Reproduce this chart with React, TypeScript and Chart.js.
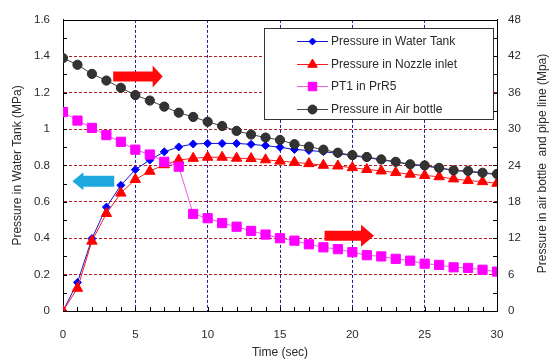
import React, { useEffect, useRef } from "react";
import { Chart, registerables } from "chart.js";

Chart.register(...registerables);

// ---------- data ----------
const timeSec = [0,1,2,3,4,5,6,7,8,9,10,11,12,13,14,15,16,17,18,19,20,21,22,23,24,25,26,27,28,29,30];

// left axis (MPa)
const waterTank = [0,0.157,0.398,0.571,0.691,0.777,0.830,0.875,0.902,0.918,0.921,0.921,0.921,0.916,0.909,0.900,0.888,0.882,0.876,0.866,0.853,0.843,0.831,0.819,0.806,0.797,0.786,0.773,0.766,0.758,0.750];
const nozzleInlet = [0,0.125,0.384,0.536,0.648,0.723,0.768,0.804,0.830,0.839,0.845,0.845,0.840,0.838,0.831,0.824,0.817,0.810,0.801,0.797,0.788,0.778,0.770,0.761,0.752,0.745,0.738,0.726,0.717,0.711,0.702];

// right axis (MPa)
const pt1PrR5 = [32.8,31.4,30.2,29.0,27.9,26.6,25.8,24.6,23.8,16.0,15.3,14.5,13.9,13.2,12.6,12.0,11.6,11.0,10.5,10.2,9.7,9.2,9.0,8.6,8.3,7.8,7.6,7.2,7.1,6.8,6.5];
const airBottle = [41.7,40.6,39.1,38.0,36.8,35.6,34.7,33.7,32.7,32.0,31.2,30.5,29.7,29.1,28.6,28.2,27.5,27.1,26.6,26.1,25.7,25.4,25.0,24.6,24.2,24.0,23.6,23.2,23.1,22.8,22.6];

const seriesNames = ["Pressure in Water Tank", "Pressure in Nozzle inlet", "PT1 in PrR5", "Pressure in Air bottle"];

const timeTicks = [0,5,10,15,20,25,30];
const leftTicks = [0,0.2,0.4,0.6,0.8,1,1.2,1.4,1.6];
const rightTicks = [0,6,12,18,24,30,36,42,48];

const xTitle = "Time (sec)";
const leftTitle = "Pressure in Water Tank (MPa)";
const rightTitle = "Pressure in air bottle  and pipe line (Mpa)";

// ---------- helpers ----------
const FONT = "'Liberation Sans', Arial, sans-serif";
const TEXT = "#2a2a2a";

const pts = (xs: number[], ys: number[]) => xs.map((x, i) => ({ x, y: ys[i] }));

function marker(ctx: CanvasRenderingContext2D, style: string, x: number, y: number, r: number, fill: string) {
  ctx.save();
  ctx.fillStyle = fill;
  ctx.strokeStyle = fill;
  ctx.lineWidth = 1;
  ctx.beginPath();
  if (style === "rectRot") {
    ctx.moveTo(x, y - r); ctx.lineTo(x + r, y); ctx.lineTo(x, y + r); ctx.lineTo(x - r, y); ctx.closePath();
  } else if (style === "triangle") {
    const w = r * Math.sqrt(3) / 2;
    ctx.moveTo(x, y - r); ctx.lineTo(x + w, y + r / 2); ctx.lineTo(x - w, y + r / 2); ctx.closePath();
  } else if (style === "rect") {
    const s = r * Math.SQRT1_2;
    ctx.rect(x - s, y - s, 2 * s, 2 * s);
  } else {
    ctx.arc(x, y, r, 0, Math.PI * 2);
  }
  ctx.fill();
  ctx.stroke();
  ctx.restore();
}

function arrow(ctx: CanvasRenderingContext2D, xTail: number, xTip: number, y: number, bodyHalf: number, headHalf: number, headLen: number, color: string) {
  const dir = xTip > xTail ? 1 : -1;
  const xNeck = xTip - dir * headLen;
  ctx.save();
  ctx.fillStyle = color;
  ctx.beginPath();
  ctx.moveTo(xTail, y - bodyHalf);
  ctx.lineTo(xNeck, y - bodyHalf);
  ctx.lineTo(xNeck, y - headHalf);
  ctx.lineTo(xTip, y);
  ctx.lineTo(xNeck, y + headHalf);
  ctx.lineTo(xNeck, y + bodyHalf);
  ctx.lineTo(xTail, y + bodyHalf);
  ctx.closePath();
  ctx.fill();
  ctx.restore();
}

const decorPlugin = {
  id: "decor",
  beforeDatasetsDraw(chart: any) {
    const { ctx, chartArea: a, scales } = chart;
    ctx.save();
    ctx.strokeStyle = "#000";
    ctx.lineWidth = 1;
    ctx.beginPath();
    for (let v = 1; v < 30; v++) {
      const px = Math.round(scales.x.getPixelForValue(v)) + 0.5;
      ctx.moveTo(px, a.bottom); ctx.lineTo(px, a.bottom - 4);
    }
    for (let k = 1; k < 16; k++) {
      const py = Math.round(scales.y.getPixelForValue(k / 10)) + 0.5;
      ctx.moveTo(a.left, py); ctx.lineTo(a.left + 4, py);
    }
    for (let k = 1; k < 16; k++) {
      const py = Math.round(scales.y1.getPixelForValue(k * 3)) + 0.5;
      ctx.moveTo(a.right, py); ctx.lineTo(a.right - 4, py);
    }
    ctx.stroke();
    // plot box
    ctx.strokeRect(Math.round(a.left) + 0.5, Math.round(a.top) + 0.5, Math.round(a.right - a.left), Math.round(a.bottom - a.top));
    ctx.restore();
  },
  afterDraw(chart: any) {
    const { ctx, chartArea: a, scales } = chart;
    const X = (v: number) => scales.x.getPixelForValue(v);
    const Y = (v: number) => scales.y.getPixelForValue(v);

    // arrows
    arrow(ctx, X(3.47), X(6.89), Y(1.289), 5, 11, 10, "#ff0a0a");
    arrow(ctx, X(3.54), X(0.65), Y(0.7125), 5.5, 9, 11, "#1ea8e0");
    arrow(ctx, X(18.08), X(21.5), Y(0.413), 5, 11, 13, "#ff0a0a");

    // legend
    const bx = a.right - 233, by = a.top + 8, bw = 229, bh = 91;
    ctx.save();
    ctx.fillStyle = "#fff";
    ctx.fillRect(Math.round(bx), Math.round(by), bw, bh);
    ctx.strokeStyle = "#333";
    ctx.lineWidth = 1;
    ctx.strokeRect(Math.round(bx) + 0.5, Math.round(by) + 0.5, bw, bh);
    const order = [0, 1, 2, 3];
    const rowY = [13, 36, 58, 81];
    ctx.font = `12px ${FONT}`;
    ctx.textBaseline = "middle";
    ctx.textAlign = "left";
    order.forEach((di, i) => {
      const ds = chart.data.datasets[di];
      const y = Math.round(by + rowY[i]) + 0.5;
      ctx.strokeStyle = ds.borderColor;
      ctx.lineWidth = 1;
      ctx.beginPath();
      ctx.moveTo(bx + 33, y); ctx.lineTo(bx + 64, y);
      ctx.stroke();
      marker(ctx, ds.pointStyle, bx + 48.5, y, ds.legendRadius, ds.pointBackgroundColor);
      ctx.fillStyle = TEXT;
      ctx.fillText(ds.label, bx + 67, y);
    });
    ctx.restore();

    // right axis title (reads bottom to top)
    ctx.save();
    ctx.font = `12px ${FONT}`;
    ctx.fillStyle = TEXT;
    ctx.textAlign = "center";
    ctx.textBaseline = "middle";
    ctx.translate(543, (a.top + a.bottom) / 2 - 2);
    ctx.rotate(-Math.PI / 2);
    ctx.fillText(rightTitle, 0, 0);
    ctx.restore();
  },
};

export default function App() {
  const ref = useRef<HTMLCanvasElement | null>(null);

  useEffect(() => {
    document.body.style.margin = "0";
    const canvas = ref.current;
    if (!canvas) return;
    Chart.defaults.font.family = FONT;

    const hideEnds = (lo: number, hi: number, color: string) => (c: any) =>
      c.tick && (Math.abs(c.tick.value - lo) < 1e-9 || Math.abs(c.tick.value - hi) < 1e-9) ? "rgba(0,0,0,0)" : color;

    const chart = new Chart(canvas, {
      type: "line",
      data: {
        datasets: [
          {
            label: seriesNames[0], data: pts(timeSec, waterTank), yAxisID: "y",
            borderColor: "#1414c8", backgroundColor: "#0000ff", borderWidth: 1,
            pointStyle: "rectRot", pointRadius: 4, pointBackgroundColor: "#0000ff", pointBorderColor: "#0000ff", pointBorderWidth: 1,
            order: 3, legendRadius: 3.5,
          } as any,
          {
            label: seriesNames[1], data: pts(timeSec, nozzleInlet), yAxisID: "y",
            borderColor: "#ff1a1a", backgroundColor: "#ff0000", borderWidth: 1,
            pointStyle: "triangle", pointRadius: 6, pointBackgroundColor: "#ff0000", pointBorderColor: "#ff0000", pointBorderWidth: 1,
            order: 2, legendRadius: 5.5,
          } as any,
          {
            label: seriesNames[2], data: pts(timeSec, pt1PrR5), yAxisID: "y1",
            borderColor: "#e85ce8", backgroundColor: "#ff00ff", borderWidth: 1,
            pointStyle: "rect", pointRadius: 6.5, pointBackgroundColor: "#ff00ff", pointBorderColor: "#ff00ff", pointBorderWidth: 1,
            order: 1, legendRadius: 6,
          } as any,
          {
            label: seriesNames[3], data: pts(timeSec, airBottle), yAxisID: "y1",
            borderColor: "#444444", backgroundColor: "#333333", borderWidth: 1,
            pointStyle: "circle", pointRadius: 4.6, pointBackgroundColor: "#333333", pointBorderColor: "#2a2a2a", pointBorderWidth: 1,
            order: 0, legendRadius: 4.5,
          } as any,
        ],
      },
      options: {
        responsive: false,
        devicePixelRatio: 1,
        animation: false,
        layout: { padding: { top: 13, left: 0, right: 0, bottom: 0 } },
        plugins: { legend: { display: false }, tooltip: { enabled: false } },
        scales: {
          x: {
            type: "linear", min: 0, max: 30,
            afterBuildTicks: (s: any) => { s.ticks = timeTicks.map((v) => ({ value: v })); },
            ticks: { padding: 17, color: TEXT, font: { size: 11.5 }, maxRotation: 0, autoSkip: false },
            grid: { color: hideEnds(0, 30, "#2020a0"), lineWidth: 1, drawTicks: false },
            border: { display: true, color: "#000", width: 1, dash: [3, 2] },
            title: { display: true, text: xTitle, color: TEXT, font: { size: 12 }, padding: { top: 0, bottom: 3 } },
            afterFit: (s: any) => { s.height = 52; },
          },
          y: {
            type: "linear", position: "left", min: 0, max: 1.6,
            afterBuildTicks: (s: any) => { s.ticks = leftTicks.map((v) => ({ value: v })); },
            ticks: { padding: 13, color: TEXT, font: { size: 11.5 }, callback: (v: any) => String(Math.round(v * 10) / 10) },
            grid: { color: hideEnds(0, 1.6, "#b82020"), lineWidth: 1, drawTicks: false },
            border: { display: true, color: "#000", width: 1, dash: [3, 2] },
            title: { display: true, text: leftTitle, color: TEXT, font: { size: 12 }, padding: { top: 10, bottom: 0 } },
            afterFit: (s: any) => { s.width = 63; },
          },
          y1: {
            type: "linear", position: "right", min: 0, max: 48,
            afterBuildTicks: (s: any) => { s.ticks = rightTicks.map((v) => ({ value: v })); },
            ticks: { padding: 11, color: TEXT, font: { size: 11.5 } },
            grid: { display: false, drawTicks: false },
            border: { display: true, color: "#000", width: 1 },
            afterFit: (s: any) => { s.width = 58; },
          },
        },
      },
      plugins: [decorPlugin],
    });

    return () => chart.destroy();
  }, []);

  return (
    <div style={{ width: 555, height: 363 }}>
      <canvas ref={ref} width={555} height={363} />
    </div>
  );
}
